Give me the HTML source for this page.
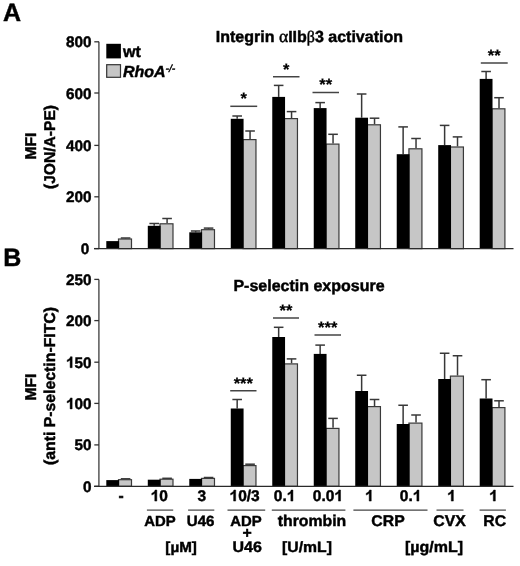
<!DOCTYPE html>
<html><head><meta charset="utf-8"><style>
html,body{margin:0;padding:0;background:#fff;width:520px;height:566px;overflow:hidden}
svg{display:block;will-change:transform}
text{font-family:"Liberation Sans", sans-serif;font-weight:bold;fill:#000;stroke:#000;stroke-width:0.45px;text-rendering:geometricPrecision}
.tk{font-size:15.3px}
.h1{fill:none;stroke:none}
.one path{fill:#000;stroke:#000;stroke-width:0.45px;vector-effect:non-scaling-stroke}
.pl{font-size:25px}
.ti{font-size:16px}
.sym{font-family:"Liberation Serif",serif;font-weight:normal}
.yl{font-size:15.6px}
.lg{font-size:16px}
.sup{font-size:10.5px;font-weight:normal;font-style:italic}
.st{font-size:16.5px;stroke-width:0.2px}
.xl1{font-size:15.5px}
.xl2{font-size:15.8px}
.xl3{font-size:16px}
</style></head><body>
<svg width="520" height="566" viewBox="0 0 520 566">
<text x="3" y="20.6" class="pl">A</text>
<text x="3.2" y="265.8" class="pl">B</text>
<text x="309.4" y="41.5" text-anchor="middle" class="ti">Integrin <tspan class="sym" style="font-size:17.6px">α</tspan>IIb<tspan class="sym">β</tspan>3 activation</text>
<text x="309" y="291.2" text-anchor="middle" class="ti">P-selectin exposure</text>
<text transform="translate(35.9,146) rotate(-90)" text-anchor="middle" class="yl">MFI</text>
<text transform="translate(55.2,147) rotate(-90)" text-anchor="middle" class="yl">(JON/A-PE)</text>
<text transform="translate(35.9,387) rotate(-90)" text-anchor="middle" class="yl">MFI</text>
<text transform="translate(55.2,386) rotate(-90)" text-anchor="middle" class="yl" style="font-size:15.8px">(anti P-selectin-FITC)</text>
<line x1="98.9" y1="41.8" x2="98.9" y2="248.6" stroke="#4a4a4a" stroke-width="1.4"/>
<line x1="94.3" y1="41.8" x2="99" y2="41.8" stroke="#333" stroke-width="1.3"/>
<text x="91.6" y="47.30" text-anchor="end" class="tk">800</text>
<line x1="94.3" y1="93" x2="99" y2="93" stroke="#333" stroke-width="1.3"/>
<text x="91.6" y="98.50" text-anchor="end" class="tk">600</text>
<line x1="94.3" y1="145.4" x2="99" y2="145.4" stroke="#333" stroke-width="1.3"/>
<text x="91.6" y="150.90" text-anchor="end" class="tk">400</text>
<line x1="94.3" y1="196.8" x2="99" y2="196.8" stroke="#333" stroke-width="1.3"/>
<text x="91.6" y="202.30" text-anchor="end" class="tk">200</text>
<line x1="94.3" y1="248.6" x2="99" y2="248.6" stroke="#333" stroke-width="1.3"/>
<text x="89.2" y="254.10" text-anchor="end" class="tk">0</text>
<line x1="125.60" y1="238.0" x2="125.60" y2="238.4" stroke="#383838" stroke-width="1.5"/>
<line x1="120.80" y1="238.0" x2="130.40" y2="238.0" stroke="#383838" stroke-width="1.5"/>
<rect x="118.50" y="239.00" width="13.00" height="9.60" fill="#c6c6c6" stroke="#3a3a3a" stroke-width="1.2"/>
<rect x="106.30" y="241.1" width="12.8" height="7.50" fill="#000"/>
<line x1="154.19" y1="223.5" x2="154.19" y2="225.8" stroke="#383838" stroke-width="1.5"/>
<line x1="149.39" y1="223.5" x2="158.99" y2="223.5" stroke="#383838" stroke-width="1.5"/>
<line x1="167.09" y1="218.5" x2="167.09" y2="223.2" stroke="#383838" stroke-width="1.5"/>
<line x1="162.29" y1="218.5" x2="171.89" y2="218.5" stroke="#383838" stroke-width="1.5"/>
<rect x="159.99" y="223.80" width="13.00" height="24.80" fill="#c6c6c6" stroke="#3a3a3a" stroke-width="1.2"/>
<rect x="147.79" y="225.8" width="12.8" height="22.80" fill="#000"/>
<line x1="195.68" y1="231.0" x2="195.68" y2="232.3" stroke="#383838" stroke-width="1.5"/>
<line x1="190.88" y1="231.0" x2="200.48" y2="231.0" stroke="#383838" stroke-width="1.5"/>
<line x1="208.58" y1="228.1" x2="208.58" y2="229.1" stroke="#383838" stroke-width="1.5"/>
<line x1="203.78" y1="228.1" x2="213.38" y2="228.1" stroke="#383838" stroke-width="1.5"/>
<rect x="201.48" y="229.70" width="13.00" height="18.90" fill="#c6c6c6" stroke="#3a3a3a" stroke-width="1.2"/>
<rect x="189.28" y="232.3" width="12.8" height="16.30" fill="#000"/>
<line x1="237.17" y1="116.0" x2="237.17" y2="118.8" stroke="#383838" stroke-width="1.5"/>
<line x1="232.37" y1="116.0" x2="241.97" y2="116.0" stroke="#383838" stroke-width="1.5"/>
<line x1="250.07" y1="131.0" x2="250.07" y2="139.0" stroke="#383838" stroke-width="1.5"/>
<line x1="245.27" y1="131.0" x2="254.87" y2="131.0" stroke="#383838" stroke-width="1.5"/>
<rect x="242.97" y="139.60" width="13.00" height="109.00" fill="#c6c6c6" stroke="#3a3a3a" stroke-width="1.2"/>
<rect x="230.77" y="118.8" width="12.8" height="129.80" fill="#000"/>
<line x1="278.66" y1="85.4" x2="278.66" y2="96.9" stroke="#383838" stroke-width="1.5"/>
<line x1="273.86" y1="85.4" x2="283.46" y2="85.4" stroke="#383838" stroke-width="1.5"/>
<line x1="291.56" y1="111.6" x2="291.56" y2="118.0" stroke="#383838" stroke-width="1.5"/>
<line x1="286.76" y1="111.6" x2="296.36" y2="111.6" stroke="#383838" stroke-width="1.5"/>
<rect x="284.46" y="118.60" width="13.00" height="130.00" fill="#c6c6c6" stroke="#3a3a3a" stroke-width="1.2"/>
<rect x="272.26" y="96.9" width="12.8" height="151.70" fill="#000"/>
<line x1="320.15" y1="102.6" x2="320.15" y2="108.1" stroke="#383838" stroke-width="1.5"/>
<line x1="315.35" y1="102.6" x2="324.95" y2="102.6" stroke="#383838" stroke-width="1.5"/>
<line x1="333.05" y1="134.3" x2="333.05" y2="143.5" stroke="#383838" stroke-width="1.5"/>
<line x1="328.25" y1="134.3" x2="337.85" y2="134.3" stroke="#383838" stroke-width="1.5"/>
<rect x="325.95" y="144.10" width="13.00" height="104.50" fill="#c6c6c6" stroke="#3a3a3a" stroke-width="1.2"/>
<rect x="313.75" y="108.1" width="12.8" height="140.50" fill="#000"/>
<line x1="361.64" y1="94.0" x2="361.64" y2="117.7" stroke="#383838" stroke-width="1.5"/>
<line x1="356.84" y1="94.0" x2="366.44" y2="94.0" stroke="#383838" stroke-width="1.5"/>
<line x1="374.54" y1="118.2" x2="374.54" y2="124.2" stroke="#383838" stroke-width="1.5"/>
<line x1="369.74" y1="118.2" x2="379.34" y2="118.2" stroke="#383838" stroke-width="1.5"/>
<rect x="367.44" y="124.80" width="13.00" height="123.80" fill="#c6c6c6" stroke="#3a3a3a" stroke-width="1.2"/>
<rect x="355.24" y="117.7" width="12.8" height="130.90" fill="#000"/>
<line x1="403.13" y1="126.9" x2="403.13" y2="154.2" stroke="#383838" stroke-width="1.5"/>
<line x1="398.33" y1="126.9" x2="407.93" y2="126.9" stroke="#383838" stroke-width="1.5"/>
<line x1="416.03" y1="138.5" x2="416.03" y2="148.2" stroke="#383838" stroke-width="1.5"/>
<line x1="411.23" y1="138.5" x2="420.83" y2="138.5" stroke="#383838" stroke-width="1.5"/>
<rect x="408.93" y="148.80" width="13.00" height="99.80" fill="#c6c6c6" stroke="#3a3a3a" stroke-width="1.2"/>
<rect x="396.73" y="154.2" width="12.8" height="94.40" fill="#000"/>
<line x1="444.62" y1="125.4" x2="444.62" y2="145.1" stroke="#383838" stroke-width="1.5"/>
<line x1="439.82" y1="125.4" x2="449.42" y2="125.4" stroke="#383838" stroke-width="1.5"/>
<line x1="457.52" y1="136.9" x2="457.52" y2="146.4" stroke="#383838" stroke-width="1.5"/>
<line x1="452.72" y1="136.9" x2="462.32" y2="136.9" stroke="#383838" stroke-width="1.5"/>
<rect x="450.42" y="147.00" width="13.00" height="101.60" fill="#c6c6c6" stroke="#3a3a3a" stroke-width="1.2"/>
<rect x="438.22" y="145.1" width="12.8" height="103.50" fill="#000"/>
<line x1="486.11" y1="71.5" x2="486.11" y2="78.9" stroke="#383838" stroke-width="1.5"/>
<line x1="481.31" y1="71.5" x2="490.91" y2="71.5" stroke="#383838" stroke-width="1.5"/>
<line x1="499.01" y1="97.7" x2="499.01" y2="108.2" stroke="#383838" stroke-width="1.5"/>
<line x1="494.21" y1="97.7" x2="503.81" y2="97.7" stroke="#383838" stroke-width="1.5"/>
<rect x="491.91" y="108.80" width="13.00" height="139.80" fill="#c6c6c6" stroke="#3a3a3a" stroke-width="1.2"/>
<rect x="479.71" y="78.9" width="12.8" height="169.70" fill="#000"/>
<line x1="94" y1="248.6" x2="513.5" y2="248.6" stroke="#2a2a2a" stroke-width="1.3"/>
<line x1="98.9" y1="279.4" x2="98.9" y2="486.3" stroke="#4a4a4a" stroke-width="1.4"/>
<line x1="94.3" y1="279.4" x2="99" y2="279.4" stroke="#333" stroke-width="1.3"/>
<text x="91.6" y="284.90" text-anchor="end" class="tk">250</text>
<line x1="94.3" y1="320.6" x2="99" y2="320.6" stroke="#333" stroke-width="1.3"/>
<text x="91.6" y="326.10" text-anchor="end" class="tk">200</text>
<line x1="94.3" y1="362.2" x2="99" y2="362.2" stroke="#333" stroke-width="1.3"/>
<text id="o0" x="91.6" y="367.70" text-anchor="end" class="tk"><tspan class="h1">1</tspan>50</text>
<g class="one"><path d="M398,0 L264,0 L264,504 C215,458 150,418 73,388 L73,509 C115,524 160,548 205,582 C250,616 270,660 283,716 L398,716 Z" transform="translate(66.069,367.700) scale(0.01530,-0.01530)"/></g>
<line x1="94.3" y1="403.4" x2="99" y2="403.4" stroke="#333" stroke-width="1.3"/>
<text id="o1" x="91.6" y="408.90" text-anchor="end" class="tk"><tspan class="h1">1</tspan>00</text>
<g class="one"><path d="M398,0 L264,0 L264,504 C215,458 150,418 73,388 L73,509 C115,524 160,548 205,582 C250,616 270,660 283,716 L398,716 Z" transform="translate(66.069,408.900) scale(0.01530,-0.01530)"/></g>
<line x1="94.3" y1="444.9" x2="99" y2="444.9" stroke="#333" stroke-width="1.3"/>
<text x="91.6" y="450.40" text-anchor="end" class="tk">50</text>
<line x1="94.3" y1="486.3" x2="99" y2="486.3" stroke="#333" stroke-width="1.3"/>
<text x="91.6" y="491.80" text-anchor="end" class="tk">0</text>
<line x1="125.60" y1="478.8" x2="125.60" y2="479.1" stroke="#383838" stroke-width="1.5"/>
<line x1="120.80" y1="478.8" x2="130.40" y2="478.8" stroke="#383838" stroke-width="1.5"/>
<rect x="118.50" y="479.70" width="13.00" height="6.60" fill="#c6c6c6" stroke="#3a3a3a" stroke-width="1.2"/>
<rect x="106.30" y="480.1" width="12.8" height="6.20" fill="#000"/>
<line x1="167.09" y1="478.3" x2="167.09" y2="478.6" stroke="#383838" stroke-width="1.5"/>
<line x1="162.29" y1="478.3" x2="171.89" y2="478.3" stroke="#383838" stroke-width="1.5"/>
<rect x="159.99" y="479.20" width="13.00" height="7.10" fill="#c6c6c6" stroke="#3a3a3a" stroke-width="1.2"/>
<rect x="147.79" y="479.7" width="12.8" height="6.60" fill="#000"/>
<line x1="208.58" y1="477.5" x2="208.58" y2="477.8" stroke="#383838" stroke-width="1.5"/>
<line x1="203.78" y1="477.5" x2="213.38" y2="477.5" stroke="#383838" stroke-width="1.5"/>
<rect x="201.48" y="478.40" width="13.00" height="7.90" fill="#c6c6c6" stroke="#3a3a3a" stroke-width="1.2"/>
<rect x="189.28" y="478.9" width="12.8" height="7.40" fill="#000"/>
<line x1="237.17" y1="399.5" x2="237.17" y2="408.5" stroke="#383838" stroke-width="1.5"/>
<line x1="232.37" y1="399.5" x2="241.97" y2="399.5" stroke="#383838" stroke-width="1.5"/>
<line x1="250.07" y1="464.2" x2="250.07" y2="465.0" stroke="#383838" stroke-width="1.5"/>
<line x1="245.27" y1="464.2" x2="254.87" y2="464.2" stroke="#383838" stroke-width="1.5"/>
<rect x="242.97" y="465.60" width="13.00" height="20.70" fill="#c6c6c6" stroke="#3a3a3a" stroke-width="1.2"/>
<rect x="230.77" y="408.5" width="12.8" height="77.80" fill="#000"/>
<line x1="278.66" y1="327.3" x2="278.66" y2="337.0" stroke="#383838" stroke-width="1.5"/>
<line x1="273.86" y1="327.3" x2="283.46" y2="327.3" stroke="#383838" stroke-width="1.5"/>
<line x1="291.56" y1="358.9" x2="291.56" y2="363.3" stroke="#383838" stroke-width="1.5"/>
<line x1="286.76" y1="358.9" x2="296.36" y2="358.9" stroke="#383838" stroke-width="1.5"/>
<rect x="284.46" y="363.90" width="13.00" height="122.40" fill="#c6c6c6" stroke="#3a3a3a" stroke-width="1.2"/>
<rect x="272.26" y="337.0" width="12.8" height="149.30" fill="#000"/>
<line x1="320.15" y1="345.1" x2="320.15" y2="353.9" stroke="#383838" stroke-width="1.5"/>
<line x1="315.35" y1="345.1" x2="324.95" y2="345.1" stroke="#383838" stroke-width="1.5"/>
<line x1="333.05" y1="418.4" x2="333.05" y2="427.8" stroke="#383838" stroke-width="1.5"/>
<line x1="328.25" y1="418.4" x2="337.85" y2="418.4" stroke="#383838" stroke-width="1.5"/>
<rect x="325.95" y="428.40" width="13.00" height="57.90" fill="#c6c6c6" stroke="#3a3a3a" stroke-width="1.2"/>
<rect x="313.75" y="353.9" width="12.8" height="132.40" fill="#000"/>
<line x1="361.64" y1="375.25" x2="361.64" y2="391.0" stroke="#383838" stroke-width="1.5"/>
<line x1="356.84" y1="375.25" x2="366.44" y2="375.25" stroke="#383838" stroke-width="1.5"/>
<line x1="374.54" y1="399.5" x2="374.54" y2="406.0" stroke="#383838" stroke-width="1.5"/>
<line x1="369.74" y1="399.5" x2="379.34" y2="399.5" stroke="#383838" stroke-width="1.5"/>
<rect x="367.44" y="406.60" width="13.00" height="79.70" fill="#c6c6c6" stroke="#3a3a3a" stroke-width="1.2"/>
<rect x="355.24" y="391.0" width="12.8" height="95.30" fill="#000"/>
<line x1="403.13" y1="405.25" x2="403.13" y2="424.0" stroke="#383838" stroke-width="1.5"/>
<line x1="398.33" y1="405.25" x2="407.93" y2="405.25" stroke="#383838" stroke-width="1.5"/>
<line x1="416.03" y1="415.0" x2="416.03" y2="422.5" stroke="#383838" stroke-width="1.5"/>
<line x1="411.23" y1="415.0" x2="420.83" y2="415.0" stroke="#383838" stroke-width="1.5"/>
<rect x="408.93" y="423.10" width="13.00" height="63.20" fill="#c6c6c6" stroke="#3a3a3a" stroke-width="1.2"/>
<rect x="396.73" y="424.0" width="12.8" height="62.30" fill="#000"/>
<line x1="444.62" y1="353.25" x2="444.62" y2="379.0" stroke="#383838" stroke-width="1.5"/>
<line x1="439.82" y1="353.25" x2="449.42" y2="353.25" stroke="#383838" stroke-width="1.5"/>
<line x1="457.52" y1="355.75" x2="457.52" y2="375.5" stroke="#383838" stroke-width="1.5"/>
<line x1="452.72" y1="355.75" x2="462.32" y2="355.75" stroke="#383838" stroke-width="1.5"/>
<rect x="450.42" y="376.10" width="13.00" height="110.20" fill="#c6c6c6" stroke="#3a3a3a" stroke-width="1.2"/>
<rect x="438.22" y="379.0" width="12.8" height="107.30" fill="#000"/>
<line x1="486.11" y1="379.7" x2="486.11" y2="398.5" stroke="#383838" stroke-width="1.5"/>
<line x1="481.31" y1="379.7" x2="490.91" y2="379.7" stroke="#383838" stroke-width="1.5"/>
<line x1="499.01" y1="400.8" x2="499.01" y2="407.0" stroke="#383838" stroke-width="1.5"/>
<line x1="494.21" y1="400.8" x2="503.81" y2="400.8" stroke="#383838" stroke-width="1.5"/>
<rect x="491.91" y="407.60" width="13.00" height="78.70" fill="#c6c6c6" stroke="#3a3a3a" stroke-width="1.2"/>
<rect x="479.71" y="398.5" width="12.8" height="87.80" fill="#000"/>
<line x1="94" y1="486.3" x2="513.5" y2="486.3" stroke="#2a2a2a" stroke-width="1.3"/>
<rect x="106.3" y="43.8" width="14.6" height="14.6" fill="#000"/>
<text x="123" y="56.9" class="lg">wt</text>
<rect x="106.7" y="64.7" width="13.8" height="12.6" fill="#c6c6c6" stroke="#333" stroke-width="1.2"/>
<text x="123" y="76.6" class="lg"><tspan font-style="italic">RhoA</tspan><tspan class="sup" dy="-4.6" dx="-0.2">-/-</tspan></text>
<line x1="230.3" y1="106.3" x2="257.2" y2="106.3" stroke="#444" stroke-width="1.5"/>
<text x="243.75" y="104.10" text-anchor="middle" class="st">*</text>
<line x1="273" y1="76.75" x2="299.5" y2="76.75" stroke="#444" stroke-width="1.5"/>
<text x="286.25" y="74.55" text-anchor="middle" class="st">*</text>
<line x1="312.5" y1="92.5" x2="339" y2="92.5" stroke="#444" stroke-width="1.5"/>
<text x="325.75" y="90.30" text-anchor="middle" class="st">**</text>
<line x1="480.8" y1="63" x2="507.7" y2="63" stroke="#444" stroke-width="1.5"/>
<text x="494.25" y="60.80" text-anchor="middle" class="st">**</text>
<line x1="230.2" y1="390.75" x2="256.5" y2="390.75" stroke="#444" stroke-width="1.5"/>
<text x="243.35" y="388.55" text-anchor="middle" class="st">***</text>
<line x1="273" y1="318" x2="299" y2="318" stroke="#444" stroke-width="1.5"/>
<text x="286.00" y="315.80" text-anchor="middle" class="st">**</text>
<line x1="314.5" y1="335" x2="341" y2="335" stroke="#444" stroke-width="1.5"/>
<text x="327.75" y="332.80" text-anchor="middle" class="st">***</text>
<text transform="translate(121.00,501.1) scale(1,1.0)" text-anchor="middle" class="xl1">-</text>
<text id="o2" transform="translate(159.30,501.1) scale(1,1.0)" text-anchor="middle" class="xl1"><tspan class="h1">1</tspan>0</text>
<g class="one" transform="translate(159.30,501.1) scale(1,1.0)"><path d="M398,0 L264,0 L264,504 C215,458 150,418 73,388 L73,509 C115,524 160,548 205,582 C250,616 270,660 283,716 L398,716 Z" transform="translate(-8.625,0.000) scale(0.01550,-0.01550)"/></g>
<text transform="translate(201.80,501.1) scale(1,1.0)" text-anchor="middle" class="xl1">3</text>
<text id="o3" transform="translate(244.60,501.1) scale(1,1.0)" text-anchor="middle" class="xl1"><tspan class="h1">1</tspan>0/3</text>
<g class="one" transform="translate(244.60,501.1) scale(1,1.0)"><path d="M398,0 L264,0 L264,504 C215,458 150,418 73,388 L73,509 C115,524 160,548 205,582 C250,616 270,660 283,716 L398,716 Z" transform="translate(-15.094,0.000) scale(0.01550,-0.01550)"/></g>
<text id="o4" transform="translate(284.60,501.1) scale(1,1.0)" text-anchor="middle" class="xl1">0.<tspan class="h1">1</tspan></text>
<g class="one" transform="translate(284.60,501.1) scale(1,1.0)"><path d="M398,0 L264,0 L264,504 C215,458 150,418 73,388 L73,509 C115,524 160,548 205,582 C250,616 270,660 283,716 L398,716 Z" transform="translate(2.156,0.000) scale(0.01550,-0.01550)"/></g>
<text id="o5" transform="translate(327.90,501.1) scale(1,1.0)" text-anchor="middle" class="xl1">0.0<tspan class="h1">1</tspan></text>
<g class="one" transform="translate(327.90,501.1) scale(1,1.0)"><path d="M398,0 L264,0 L264,504 C215,458 150,418 73,388 L73,509 C115,524 160,548 205,582 C250,616 270,660 283,716 L398,716 Z" transform="translate(6.469,0.000) scale(0.01550,-0.01550)"/></g>
<text id="o6" transform="translate(369.40,501.1) scale(1,1.0)" text-anchor="middle" class="xl1"><tspan class="h1">1</tspan></text>
<g class="one" transform="translate(369.40,501.1) scale(1,1.0)"><path d="M398,0 L264,0 L264,504 C215,458 150,418 73,388 L73,509 C115,524 160,548 205,582 C250,616 270,660 283,716 L398,716 Z" transform="translate(-4.312,0.000) scale(0.01550,-0.01550)"/></g>
<text id="o7" transform="translate(410.60,501.1) scale(1,1.0)" text-anchor="middle" class="xl1">0.<tspan class="h1">1</tspan></text>
<g class="one" transform="translate(410.60,501.1) scale(1,1.0)"><path d="M398,0 L264,0 L264,504 C215,458 150,418 73,388 L73,509 C115,524 160,548 205,582 C250,616 270,660 283,716 L398,716 Z" transform="translate(2.156,0.000) scale(0.01550,-0.01550)"/></g>
<text id="o8" transform="translate(451.50,501.1) scale(1,1.0)" text-anchor="middle" class="xl1"><tspan class="h1">1</tspan></text>
<g class="one" transform="translate(451.50,501.1) scale(1,1.0)"><path d="M398,0 L264,0 L264,504 C215,458 150,418 73,388 L73,509 C115,524 160,548 205,582 C250,616 270,660 283,716 L398,716 Z" transform="translate(-4.312,0.000) scale(0.01550,-0.01550)"/></g>
<text id="o9" transform="translate(493.50,501.1) scale(1,1.0)" text-anchor="middle" class="xl1"><tspan class="h1">1</tspan></text>
<g class="one" transform="translate(493.50,501.1) scale(1,1.0)"><path d="M398,0 L264,0 L264,504 C215,458 150,418 73,388 L73,509 C115,524 160,548 205,582 C250,616 270,660 283,716 L398,716 Z" transform="translate(-4.312,0.000) scale(0.01550,-0.01550)"/></g>
<text transform="translate(160.00,526.0) scale(1,0.98)" text-anchor="middle" class="xl2" style="font-size:14.9px">ADP</text>
<text transform="translate(200.60,526.0) scale(1,0.98)" text-anchor="middle" class="xl2" style="font-size:15.1px">U46</text>
<text transform="translate(246.00,526.0) scale(1,0.98)" text-anchor="middle" class="xl2" style="font-size:14.9px">ADP</text>
<text transform="translate(312.00,526.0) scale(1,0.98)" text-anchor="middle" class="xl2">thrombin</text>
<text transform="translate(388.00,526.0) scale(1,0.98)" text-anchor="middle" class="xl2">CRP</text>
<text transform="translate(449.60,526.0) scale(1,0.98)" text-anchor="middle" class="xl2">CVX</text>
<text transform="translate(494.70,526.0) scale(1,0.98)" text-anchor="middle" class="xl2">RC</text>
<text transform="translate(247.10,537.6) scale(1,0.98)" text-anchor="middle" class="xl2">+</text>
<text transform="translate(181.10,552.2) scale(1,0.95)" text-anchor="middle" class="xl3" style="font-size:15.2px">[µM]</text>
<text transform="translate(247.20,552.2) scale(1,0.95)" text-anchor="middle" class="xl3">U46</text>
<text transform="translate(307.00,552.2) scale(1,0.95)" text-anchor="middle" class="xl3" style="font-size:15.75px">[U/mL]</text>
<text transform="translate(434.00,552.2) scale(1,0.95)" text-anchor="middle" class="xl3">[µg/mL]</text>
<line x1="146.9" y1="510.1" x2="173.2" y2="510.1" stroke="#444" stroke-width="1.2"/>
<line x1="188.1" y1="510.1" x2="214.3" y2="510.1" stroke="#444" stroke-width="1.2"/>
<line x1="227.5" y1="510.1" x2="265.2" y2="510.1" stroke="#444" stroke-width="1.2"/>
<line x1="271.8" y1="510.1" x2="345.4" y2="510.1" stroke="#444" stroke-width="1.2"/>
<line x1="353.4" y1="510.1" x2="427.5" y2="510.1" stroke="#444" stroke-width="1.2"/>
<line x1="436.5" y1="510.1" x2="463.5" y2="510.1" stroke="#444" stroke-width="1.2"/>
<line x1="479.6" y1="510.1" x2="505.9" y2="510.1" stroke="#444" stroke-width="1.2"/>
</svg>
</body></html>
